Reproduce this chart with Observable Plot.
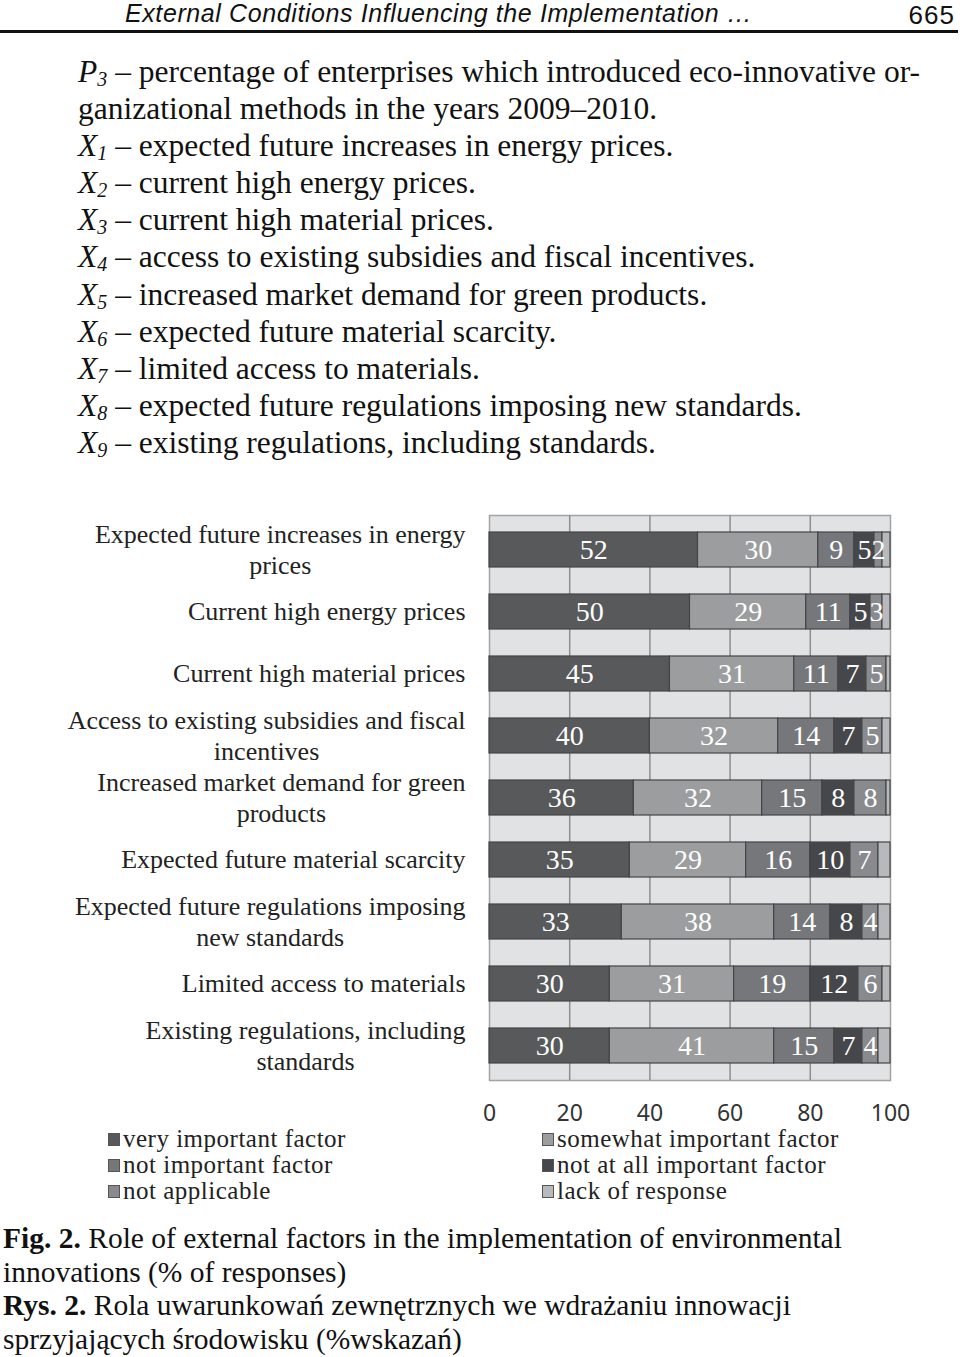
<!DOCTYPE html>
<html><head><meta charset="utf-8">
<script src="https://cdn.jsdelivr.net/npm/d3@7"></script>
<script src="https://cdn.jsdelivr.net/npm/@observablehq/plot@0.6"></script>
<style>
body{margin:0;background:#fff;}
#page{position:relative;width:960px;height:1357px;overflow:hidden;font-family:"Liberation Serif","Times New Roman",serif;color:#111;}
.hdr{position:absolute;top:1px;font-family:"Liberation Sans",Arial,sans-serif;font-style:italic;font-size:25px;line-height:25px;letter-spacing:0.6px;white-space:nowrap;}
.rule{position:absolute;left:0;top:30px;width:958px;height:3px;background:#111;}
#list{position:absolute;left:78px;top:53px;font-size:31.5px;line-height:37.1px;white-space:nowrap;}
#list i sub{font-size:20px;vertical-align:-4px;line-height:0;}
#chart{position:absolute;left:0;top:500px;}
#legend{position:absolute;left:108px;top:1126px;display:grid;grid-template-columns:434px auto;font-size:25px;line-height:26px;color:#222;letter-spacing:0.5px;}
#legend .item{display:flex;align-items:center;white-space:nowrap;}
#legend .sw{width:12px;height:13px;border:1px solid #555;margin-right:3px;box-sizing:border-box;}
#caption{position:absolute;left:3px;top:1222px;font-size:29.5px;line-height:33.5px;white-space:nowrap;}
</style></head>
<body><div id="page">
<div class="hdr" style="left:125px">External Conditions Influencing the Implementation …</div>
<div class="hdr" style="right:5px;top:2px;font-style:normal;font-size:26px;line-height:26px;letter-spacing:1px">665</div>
<div class="rule"></div>
<div id="list"></div>
<div id="chart"></div>
<div id="legend"></div>
<div id="caption"><b>Fig. 2.</b> Role of external factors in the implementation of environmental<br>innovations (% of responses)<br><b>Rys. 2.</b> Rola uwarunkowań zewnętrznych we wdrażaniu innowacji<br>sprzyjających środowisku (%wskazań)</div>
</div>
<script>
// ---- data ----
const factors = [
  "Expected future increases in energy\nprices",
  "Current high energy prices",
  "Current high material prices",
  "Access to existing subsidies and fiscal\nincentives",
  "Increased market demand for green\nproducts",
  "Expected future material scarcity",
  "Expected future regulations imposing\nnew standards",
  "Limited access to materials",
  "Existing regulations, including\nstandards"
];
const categories = ["very important factor","somewhat important factor","not important factor","not at all important factor","not applicable","lack of response"];
const veryImportant     = [52,50,45,40,36,35,33,30,30];
const somewhatImportant = [30,29,31,32,32,29,38,31,41];
const notImportant      = [9,11,11,14,15,16,14,19,15];
const notAtAllImportant = [5,5,7,7,8,10,8,12,7];
const notApplicable     = [2,3,5,5,8,7,4,6,4];
const lackOfResponse    = [2,2,1,2,1,3,3,2,3];
const xTicks = [0,20,40,60,80,100];
const colors = ["#58595b","#9c9d9f","#76777a","#46474a","#898a8d","#b8b9bc"];

const listItems = [
  ["P","3","percentage of enterprises which introduced eco-innovative or-"],
  ["","","ganizational methods in the years 2009–2010."],
  ["X","1","expected future increases in energy prices."],
  ["X","2","current high energy prices."],
  ["X","3","current high material prices."],
  ["X","4","access to existing subsidies and fiscal incentives."],
  ["X","5","increased market demand for green products."],
  ["X","6","expected future material scarcity."],
  ["X","7","limited access to materials."],
  ["X","8","expected future regulations imposing new standards."],
  ["X","9","existing regulations, including standards."]
];

// ---- text blocks ----
document.getElementById("list").innerHTML = listItems.map(([v,s,t]) =>
  v ? `<div><i>${v}<sub>${s}</sub></i> – ${t}</div>` : `<div>${t}</div>`).join("");

document.getElementById("legend").innerHTML = categories.map((c,i) =>
  `<div class="item"><span class="sw" style="background:${colors[i]}"></span>${c}</div>`).join("");

// ---- chart ----
const series = [veryImportant, somewhatImportant, notImportant, notAtAllImportant, notApplicable, lackOfResponse];
const rows = factors.flatMap((f,i) => categories.map((c,j) => ({factor:f, category:c, value:series[j][i]})));

const serif = "Liberation Serif, Times New Roman, serif";
const labelSize = 26;
const ctx = document.createElement("canvas").getContext("2d");
ctx.font = `${labelSize}px "Liberation Serif"`;

const labelMarks = factors.flatMap(f => {
  const lines = f.split("\n");
  const two = lines.length > 1;
  const marks = [Plot.text([f], {y: d => d, text: () => lines[0], frameAnchor: "left", textAnchor: "end",
    dx: -24, dy: two ? -15.5 : 0, fontSize: labelSize, fontFamily: serif, fill: "#222"})];
  if (two) {
    const w = ctx.measureText(lines[0]).width;
    marks.push(Plot.text([f], {y: d => d, text: () => lines[1], frameAnchor: "left", textAnchor: "middle",
      dx: -24 - w / 2, dy: 15.5, fontSize: labelSize, fontFamily: serif, fill: "#222"}));
  }
  return marks;
});

const chart = Plot.plot({
  width: 960, height: 640,
  marginLeft: 489, marginRight: 70, marginTop: 15, marginBottom: 60,
  style: {background: "transparent", overflow: "visible"},
  x: {domain: [0, 100]},
  y: {domain: factors, axis: null, paddingInner: 0.44, paddingOuter: 0.22},
  color: {domain: categories, range: colors},
  marks: [
    Plot.frame({fill: "#e1e2e4", stroke: "#a3a3a3", strokeWidth: 1.5}),
    Plot.ruleX([20, 40, 60, 80], {stroke: "#8e8e8e", strokeWidth: 1.5}),
    Plot.barX(rows, Plot.stackX({x: "value", y: "factor", fill: "category", stroke: "#444547", strokeWidth: 1.2})),
    Plot.text(rows, Plot.stackX({x: "value", y: "factor", z: "category",
      text: d => d.category === categories[5] ? null : String(d.value),
      fill: "white", fontSize: 28, fontFamily: serif})),
    Plot.axisX({ticks: xTicks, tickSize: 0, tickPadding: 24, fontSize: 23,
      fontFamily: "Noto Sans, Open Sans, sans-serif", fill: "#333", label: null}),
    ...labelMarks
  ]
});
document.getElementById("chart").appendChild(chart);
</script>
</body></html>
